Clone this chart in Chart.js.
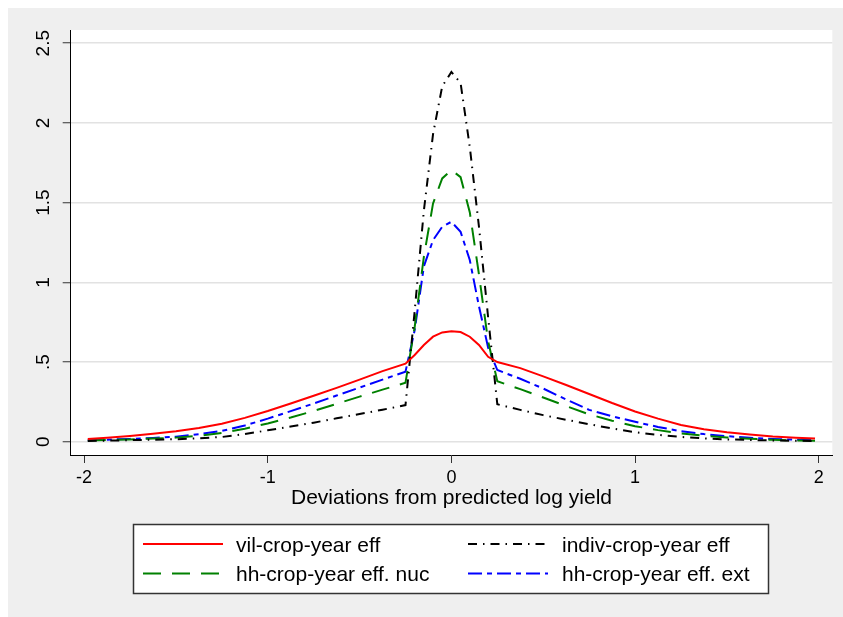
<!DOCTYPE html>
<html>
<head>
<meta charset="utf-8">
<script src="https://cdn.jsdelivr.net/npm/chart.js@4"></script>
<style>
  html, body { margin: 0; padding: 0; background: #ffffff; }
  #wrap { width: 843px; height: 617px; position: relative; }
</style>
</head>
<body>
<div id="wrap"><canvas id="c" width="843" height="617"></canvas></div>
<script>
// ---- data ----
const xs = [-1.98, -1.875, -1.75, -1.625, -1.5, -1.375, -1.25, -1.125, -1, -0.875, -0.75, -0.625, -0.5, -0.375, -0.25,
            -0.2, -0.15, -0.1, -0.05, 0, 0.05, 0.1, 0.15, 0.2,
            0.25, 0.375, 0.5, 0.625, 0.75, 0.875, 1, 1.125, 1.25, 1.375, 1.5, 1.625, 1.75, 1.875, 1.98];
const vilCropYear   = [0.017, 0.025, 0.036, 0.05, 0.066, 0.087, 0.113, 0.15, 0.193, 0.24, 0.289, 0.338, 0.39, 0.443, 0.49,
                       0.544, 0.607, 0.659, 0.686, 0.694, 0.688, 0.659, 0.607, 0.533,
                       0.50, 0.462, 0.41, 0.356, 0.30, 0.243, 0.19, 0.145, 0.105, 0.079, 0.06, 0.045, 0.033, 0.025, 0.02];
const indivCropYear = [0.005, 0.007, 0.01, 0.013, 0.016, 0.022, 0.03, 0.048, 0.072, 0.096, 0.12, 0.147, 0.174, 0.201, 0.23,
                       0.82, 1.45, 1.93, 2.23, 2.32, 2.25, 1.85, 1.35, 0.78,
                       0.235, 0.2, 0.167, 0.138, 0.11, 0.083, 0.06, 0.043, 0.03, 0.021, 0.015, 0.011, 0.008, 0.006, 0.005];
const hhNuc         = [0.008, 0.011, 0.015, 0.02, 0.026, 0.038, 0.055, 0.082, 0.115, 0.152, 0.193, 0.238, 0.283, 0.327, 0.37,
                       0.72, 1.16, 1.495, 1.652, 1.705, 1.66, 1.44, 1.05, 0.63,
                       0.38, 0.33, 0.278, 0.224, 0.172, 0.132, 0.098, 0.073, 0.052, 0.038, 0.027, 0.019, 0.012, 0.008, 0.006];
const hhExt         = [0.01, 0.013, 0.018, 0.024, 0.032, 0.047, 0.068, 0.102, 0.145, 0.192, 0.24, 0.29, 0.34, 0.39, 0.44,
                       0.70, 1.10, 1.265, 1.349, 1.38, 1.317, 1.14, 0.85, 0.59,
                       0.45, 0.395, 0.334, 0.265, 0.20, 0.16, 0.125, 0.093, 0.066, 0.048, 0.035, 0.025, 0.018, 0.013, 0.01];
const seriesNames = ['vil-crop-year eff', 'indiv-crop-year eff', 'hh-crop-year eff. nuc', 'hh-crop-year eff. ext'];
const xTickValues = [-2, -1, 0, 1, 2];
const xTickLabels = ['-2', '-1', '0', '1', '2'];
const yTickValues = [0, 0.5, 1, 1.5, 2, 2.5];
const yTickLabels = ['0', '.5', '1', '1.5', '2', '2.5'];
const xTitle = 'Deviations from predicted log yield';

const FONT = '"Liberation Sans", Arial, Helvetica, sans-serif';
const toPts = arr => xs.map((x, i) => ({ x: x, y: arr[i] }));

const styles = [
  { color: '#ff0000', dash: [] },
  { color: '#000000', dash: [9, 6, 1.5, 6] },
  { color: '#008000', dash: [18, 11] },
  { color: '#0000ff', dash: [14, 5, 5, 5] }
];
const seriesData = [vilCropYear, indivCropYear, hhNuc, hhExt];

const datasets = seriesData.map((arr, i) => ({
  label: seriesNames[i],
  data: toPts(arr),
  borderColor: styles[i].color,
  backgroundColor: styles[i].color,
  borderDash: styles[i].dash,
  borderWidth: 2,
  pointRadius: 0,
  tension: 0,
  fill: false
}));

const bgPlugin = {
  id: 'bg',
  beforeDraw(chart) {
    const ctx = chart.ctx, a = chart.chartArea;
    ctx.save();
    ctx.fillStyle = '#ffffff';
    ctx.fillRect(0, 0, chart.width, chart.height);
    ctx.fillStyle = '#efefef';
    ctx.fillRect(8, 8, chart.width - 8, chart.height - 8);
    ctx.fillStyle = '#ffffff';
    ctx.fillRect(a.left, a.top, a.right - a.left, a.bottom - a.top);
    ctx.restore();
  }
};

const legendPlugin = {
  id: 'boxLegend',
  afterDraw(chart) {
    const ctx = chart.ctx;
    ctx.save();
    ctx.fillStyle = '#ffffff';
    ctx.fillRect(133, 524, 636, 70);
    ctx.strokeStyle = '#333333';
    ctx.lineWidth = 1.5;
    ctx.strokeRect(133.5, 524.5, 635, 69);
    const colSample = [143, 468];
    const colText = [236, 562];
    const rowY = [544, 573.5];
    ctx.font = '21px ' + FONT;
    ctx.textBaseline = 'alphabetic';
    ctx.textAlign = 'left';
    chart.data.datasets.forEach((ds, i) => {
      const col = i % 2, row = Math.floor(i / 2);
      const y = rowY[row];
      ctx.strokeStyle = ds.borderColor;
      ctx.lineWidth = 2;
      ctx.setLineDash(ds.borderDash || []);
      ctx.beginPath();
      ctx.moveTo(colSample[col], y);
      ctx.lineTo(colSample[col] + 80, y);
      ctx.stroke();
      ctx.setLineDash([]);
      ctx.fillStyle = '#000000';
      ctx.fillText(ds.label, colText[col], y + 7.6);
    });
    ctx.restore();
  }
};

new Chart(document.getElementById('c'), {
  type: 'line',
  data: { datasets: datasets },
  plugins: [bgPlugin, legendPlugin],
  options: {
    responsive: false,
    animation: false,
    devicePixelRatio: 1,
    layout: { padding: { top: 30, right: 10.7, left: 0, bottom: 0 } },
    plugins: { legend: { display: false }, tooltip: { enabled: false } },
    scales: {
      x: {
        type: 'linear',
        min: -2.073,
        max: 2.074,
        afterBuildTicks: s => { s.ticks = xTickValues.map(v => ({ value: v })); },
        afterFit: s => { s.height = 162; },
        ticks: {
          callback: (v) => xTickLabels[xTickValues.indexOf(v)],
          color: '#000000',
          font: { family: FONT, size: 18 },
          padding: 4,
          maxRotation: 0,
          autoSkip: false
        },
        grid: { display: true, drawOnChartArea: false, drawTicks: true, tickLength: 8, tickColor: '#333333', tickWidth: 1 },
        border: { display: true, color: '#000000', width: 1 },
        title: {
          display: true,
          text: xTitle,
          color: '#000000',
          font: { family: FONT, size: 21 },
          padding: { top: 0, bottom: 106 }
        }
      },
      y: {
        type: 'linear',
        min: -0.083,
        max: 2.583,
        afterBuildTicks: s => { s.ticks = yTickValues.map(v => ({ value: v })); },
        afterFit: s => { s.width = 70.7; },
        ticks: {
          callback: (v) => yTickLabels[yTickValues.indexOf(v)],
          color: '#000000',
          font: { family: FONT, size: 19 },
          minRotation: 90,
          maxRotation: 90,
          crossAlign: 'center',
          padding: 6,
          autoSkip: false
        },
        grid: { display: true, drawOnChartArea: true, color: '#e2e2e2', lineWidth: 1.5, drawTicks: true, tickLength: 8, tickColor: '#333333', tickWidth: 1 },
        border: { display: true, color: '#000000', width: 1 }
      }
    }
  }
});
</script>
</body>
</html>
